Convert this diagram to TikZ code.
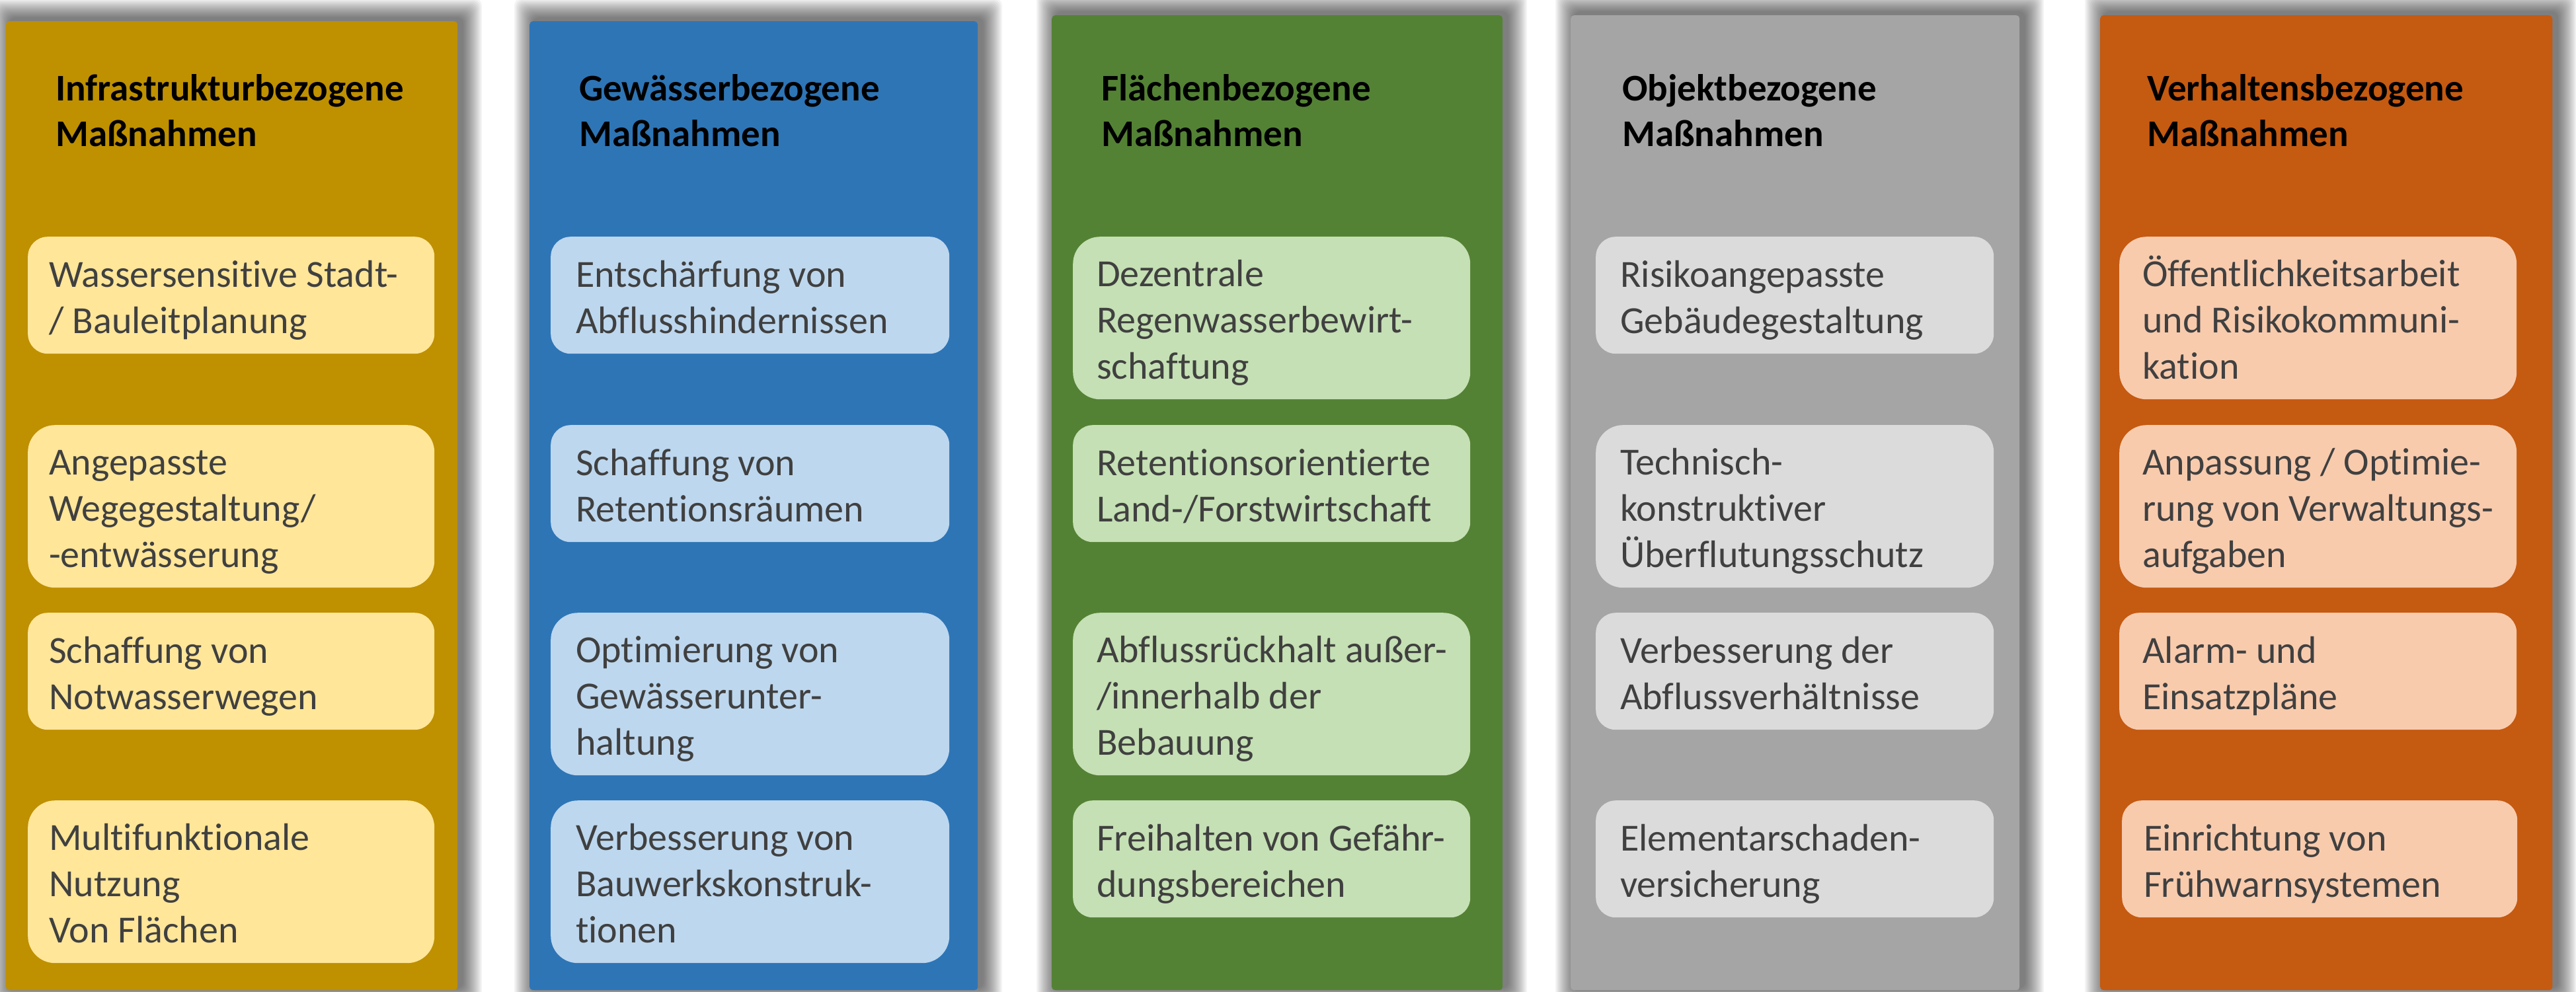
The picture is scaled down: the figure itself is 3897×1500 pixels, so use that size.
\documentclass[tikz,border=0pt]{standalone}
\usepackage{fontspec}
\setmainfont{Carlito}[Ligatures=NoCommon]
\definecolor{cA}{HTML}{BF9000}\definecolor{cAl}{HTML}{FFE699}
\definecolor{cB}{HTML}{2E75B6}\definecolor{cBl}{HTML}{BDD7EE}
\definecolor{cC}{HTML}{548235}\definecolor{cCl}{HTML}{C5E0B4}
\definecolor{cD}{HTML}{A5A5A5}\definecolor{cDl}{HTML}{DBDBDB}
\definecolor{cE}{HTML}{C55A11}\definecolor{cEl}{HTML}{F8CBAD}
\definecolor{txtgray}{HTML}{404040}
\newcommand\ls{\rule[-12.4pt]{0pt}{69.7pt}}
\newcommand\lines[1]{{\renewcommand\arraystretch{0}\begin{tabular}{@{}l@{}}#1\end{tabular}}}
\newcommand\colshadow[4]{%
  \foreach \k in {1,...,15}{%
    \fill[black,fill opacity=0.045,rounded corners=10pt]
      ({#1+7-2*\k},{#2-4-2*\k}) rectangle ({#3+7+2*\k},{#4-4+2*\k});}}
\begin{document}
\begin{tikzpicture}[x=1pt,y=-1pt,
  colbox/.style={rectangle,anchor=north west,inner sep=0pt,rounded corners=5pt,draw=none},
  ibox/.style={rectangle,anchor=north west,inner sep=0pt,draw=none},
  twoline/.style={minimum height=177pt,rounded corners=30pt},
  threeline/.style={minimum height=246pt,rounded corners=41pt},
  itext/.style={anchor=west,inner sep=0pt,text=txtgray,font=\fontsize{58}{69.7}\selectfont},
  htext/.style={anchor=north west,inner sep=0pt,text=black,font=\fontsize{57}{69.7}\selectfont\bfseries}]
\useasboundingbox (0,0) rectangle (3897,1500);
\fill[white] (0,0) rectangle (3897,1500);
% shadows
\colshadow{9}{32}{692}{1498}
\colshadow{801}{32}{1479}{1498}
\colshadow{1591}{23}{2273}{1498}
\colshadow{2376}{23}{3055}{1498}
\colshadow{3177}{23}{3861}{1498}
% columns
\node[colbox,fill=cA,minimum width=683pt,minimum height=1466pt] (col1) at (9,32) {};
\node[colbox,fill=cB,minimum width=678pt,minimum height=1466pt] (col2) at (801,32) {};
\node[colbox,fill=cC,minimum width=682pt,minimum height=1475pt] (col3) at (1591,23) {};
\node[colbox,fill=cD,minimum width=679pt,minimum height=1475pt] (col4) at (2376,23) {};
\node[colbox,fill=cE,minimum width=684pt,minimum height=1475pt] (col5) at (3177,23) {};
% headers
\node[htext] (h1) at (84,94.7) {\lines{\ls Infrastrukturbezogene\\\ls Maßnahmen}};
\node[htext] (h2) at (876,94.7) {\lines{\ls Gewässerbezogene\\\ls Maßnahmen}};
\node[htext] (h3) at (1666,94.7) {\lines{\ls Flächenbezogene\\\ls Maßnahmen}};
\node[htext] (h4) at (2454,94.7) {\lines{\ls Objektbezogene\\\ls Maßnahmen}};
\node[htext] (h5) at (3248,94.7) {\lines{\ls Verhaltensbezogene\\\ls Maßnahmen}};
% column 1
\node[ibox,twoline,fill=cAl,minimum width=615pt] (b11) at (42,358) {};
\node[ibox,threeline,fill=cAl,minimum width=615pt] (b12) at (42,643) {};
\node[ibox,twoline,fill=cAl,minimum width=615pt] (b13) at (42,927) {};
\node[ibox,threeline,fill=cAl,minimum width=615pt] (b14) at (42,1211) {};
\node[itext] (t11) at ([xshift=32pt]b11.west) {\lines{\ls Wassersensitive Stadt-\\\ls / Bauleitplanung}};
\node[itext] (t12) at ([xshift=32pt]b12.west) {\lines{\ls Angepasste\\\ls Wegegestaltung/\\\ls -entwässerung}};
\node[itext] (t13) at ([xshift=32pt]b13.west) {\lines{\ls Schaffung von\\\ls Notwasserwegen}};
\node[itext] (t14) at ([xshift=32pt]b14.west) {\lines{\ls Multifunktionale\\\ls Nutzung\\\ls Von Flächen}};
% column 2
\node[ibox,twoline,fill=cBl,minimum width=603pt] (b21) at (833,358) {};
\node[ibox,twoline,fill=cBl,minimum width=603pt] (b22) at (833,643) {};
\node[ibox,threeline,fill=cBl,minimum width=603pt] (b23) at (833,927) {};
\node[ibox,threeline,fill=cBl,minimum width=603pt] (b24) at (833,1211) {};
\node[itext] (t21) at ([xshift=38pt]b21.west) {\lines{\ls Entschärfung von\\\ls Abflusshindernissen}};
\node[itext] (t22) at ([xshift=38pt]b22.west) {\lines{\ls Schaffung von\\\ls Retentionsräumen}};
\node[itext] (t23) at ([xshift=38pt]b23.west) {\lines{\ls Optimierung von\\\ls Gewässerunter-\\\ls haltung}};
\node[itext] (t24) at ([xshift=38pt]b24.west) {\lines{\ls Verbesserung von\\\ls Bauwerkskonstruk-\\\ls tionen}};
% column 3
\node[ibox,threeline,fill=cCl,minimum width=601pt] (b31) at (1623,358) {};
\node[ibox,twoline,fill=cCl,minimum width=601pt] (b32) at (1623,643) {};
\node[ibox,threeline,fill=cCl,minimum width=601pt] (b33) at (1623,927) {};
\node[ibox,twoline,fill=cCl,minimum width=601pt] (b34) at (1623,1211) {};
\node[itext] (t31) at ([xshift=36pt]b31.west) {\lines{\ls Dezentrale\\\ls Regenwasserbewirt-\\\ls schaftung}};
\node[itext] (t32) at ([xshift=36pt]b32.west) {\lines{\ls Retentionsorientierte\\\ls Land-/Forstwirtschaft}};
\node[itext] (t33) at ([xshift=36pt]b33.west) {\lines{\ls Abflussrückhalt außer-\\\ls /innerhalb der\\\ls Bebauung}};
\node[itext] (t34) at ([xshift=36pt]b34.west) {\lines{\ls Freihalten von Gefähr-\\\ls dungsbereichen}};
% column 4
\node[ibox,twoline,fill=cDl,minimum width=602pt] (b41) at (2414,358) {};
\node[ibox,threeline,fill=cDl,minimum width=602pt] (b42) at (2414,643) {};
\node[ibox,twoline,fill=cDl,minimum width=602pt] (b43) at (2414,927) {};
\node[ibox,twoline,fill=cDl,minimum width=602pt] (b44) at (2414,1211) {};
\node[itext] (t41) at ([xshift=37pt]b41.west) {\lines{\ls Risikoangepasste\\\ls Gebäudegestaltung}};
\node[itext] (t42) at ([xshift=37pt]b42.west) {\lines{\ls Technisch-\\\ls konstruktiver\\\ls Überflutungsschutz}};
\node[itext] (t43) at ([xshift=37pt]b43.west) {\lines{\ls Verbesserung der\\\ls Abflussverhältnisse}};
\node[itext] (t44) at ([xshift=37pt]b44.west) {\lines{\ls Elementarschaden-\\\ls versicherung}};
% column 5
\node[ibox,threeline,fill=cEl,minimum width=601pt] (b51) at (3206,358) {};
\node[ibox,threeline,fill=cEl,minimum width=601pt] (b52) at (3206,643) {};
\node[ibox,twoline,fill=cEl,minimum width=601pt] (b53) at (3206,927) {};
\node[ibox,twoline,fill=cEl,minimum width=598pt] (b54) at (3210,1211) {};
\node[itext] (t51) at ([xshift=35pt]b51.west) {\lines{\ls Öffentlichkeitsarbeit\\\ls und Risikokommuni-\\\ls kation}};
\node[itext] (t52) at ([xshift=35pt]b52.west) {\lines{\ls Anpassung / Optimie-\\\ls rung von Verwaltungs-\\\ls aufgaben}};
\node[itext] (t53) at ([xshift=35pt]b53.west) {\lines{\ls Alarm- und\\\ls Einsatzpläne}};
\node[itext] (t54) at ([xshift=33pt]b54.west) {\lines{\ls Einrichtung von\\\ls Frühwarnsystemen}};
\end{tikzpicture}
\end{document}
